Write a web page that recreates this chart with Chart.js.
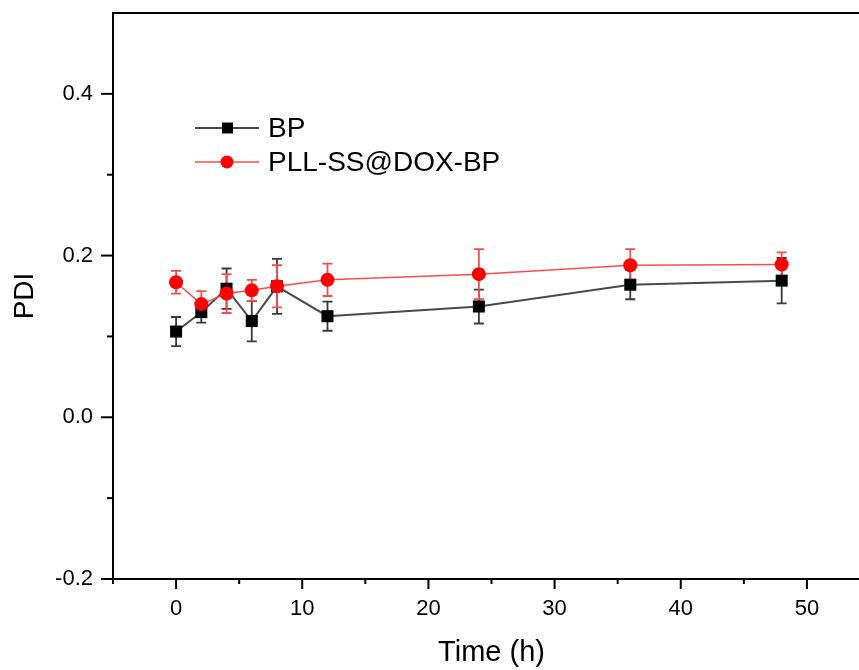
<!DOCTYPE html>
<html>
<head>
<meta charset="utf-8">
<script src="https://cdn.jsdelivr.net/npm/chart.js@4/dist/chart.umd.min.js"></script>
<style>
  html, body { margin: 0; padding: 0; background: #fff; overflow: hidden; }
  /* o gráfico original está cortado à direita, antes do fim do eixo */
  #wrap { width: 859px; height: 670px; overflow: hidden; }
</style>
</head>
<body>
<div id="wrap"><canvas id="pdiChart" width="870" height="670"></canvas></div>
<script>
// dados
const times = [0, 2, 4, 6, 8, 12, 24, 36, 48];
const bpPdi = [0.106, 0.130, 0.159, 0.119, 0.162, 0.125, 0.137, 0.164, 0.169];
const bpErr = [0.018, 0.013, 0.025, 0.025, 0.034, 0.018, 0.021, 0.018, 0.028];
const doxPdi = [0.167, 0.140, 0.153, 0.157, 0.162, 0.170, 0.177, 0.188, 0.189];
const doxErr = [0.014, 0.016, 0.024, 0.013, 0.026, 0.020, 0.031, 0.020, 0.015];
const seriesNames = ['BP', 'PLL-SS@DOX-BP'];
const xTickLabels = [0, 10, 20, 30, 40, 50];
const yTickLabels = [-0.2, 0.0, 0.2, 0.4];

const FONT = '"Liberation Sans", Arial, sans-serif';

const toPoints = (ys) => times.map((t, i) => ({ x: t, y: ys[i] }));

// zera o padding extra que o Chart.js reserva para os rótulos das pontas
const noEdgePadding = (s) => {
    s.paddingTop = 0; s.paddingBottom = 0;
    s.paddingLeft = 0; s.paddingRight = 0;
};

// barras de erro, desenhadas pelas escalas do próprio chart
const errorBars = {
    id: 'errorBars',
    beforeDatasetsDraw(chart) {
        const { ctx, scales: { x, y } } = chart;
        chart.data.datasets.forEach((ds) => {
            ctx.save();
            ctx.strokeStyle = ds.errColor;
            ctx.lineWidth = 1.8;
            ds.data.forEach((p, i) => {
                const e = ds.errors[i];
                const px = x.getPixelForValue(p.x);
                const top = y.getPixelForValue(p.y + e);
                const bot = y.getPixelForValue(p.y - e);
                ctx.beginPath();
                ctx.moveTo(px, top); ctx.lineTo(px, bot);
                ctx.moveTo(px - 5, top); ctx.lineTo(px + 5, top);
                ctx.moveTo(px - 5, bot); ctx.lineTo(px + 5, bot);
                ctx.stroke();
            });
            ctx.restore();
        });
    }
};

// marcas dos eixos (maiores e menores), moldura e legenda
const frameAndLegend = {
    id: 'frameAndLegend',
    afterDraw(chart) {
        const { ctx, chartArea: a, scales: { x, y } } = chart;
        ctx.save();
        ctx.strokeStyle = '#000';
        ctx.lineWidth = 2;
        // moldura de cima e da direita
        ctx.beginPath();
        ctx.moveTo(a.left - 1, a.top); ctx.lineTo(a.right, a.top); ctx.lineTo(a.right, a.bottom);
        ctx.stroke();
        // ticks do eixo x
        x.ticks.forEach((t) => {
            const px = x.getPixelForValue(t.value);
            const len = t.value % 10 === 0 ? 10 : 5;
            ctx.beginPath();
            ctx.moveTo(px, a.bottom); ctx.lineTo(px, a.bottom + len);
            ctx.stroke();
        });
        // ticks do eixo y
        y.ticks.forEach((t) => {
            if (t.value > 0.45) return;
            const py = y.getPixelForValue(t.value);
            const major = Math.abs(Math.round(t.value * 10)) % 2 === 0;
            const len = major ? 12 : 6;
            ctx.beginPath();
            ctx.moveTo(a.left, py); ctx.lineTo(a.left - len, py);
            ctx.stroke();
        });
        ctx.restore();

        // legenda
        ctx.save();
        const lx = a.left + 82;
        chart.data.datasets.forEach((ds, i) => {
            const ly = 128 + i * 34;
            ctx.strokeStyle = ds.borderColor;
            ctx.lineWidth = ds.borderWidth;
            ctx.beginPath();
            ctx.moveTo(lx, ly); ctx.lineTo(lx + 64, ly);
            ctx.stroke();
            ctx.fillStyle = ds.pointBackgroundColor;
            if (ds.pointStyle === 'rect') {
                ctx.fillRect(lx + 27, ly - 5.5, 11, 11);
            } else {
                ctx.beginPath();
                ctx.arc(lx + 32, ly, 6.5, 0, Math.PI * 2);
                ctx.fill();
            }
            ctx.fillStyle = '#000';
            ctx.font = '28px ' + FONT;
            ctx.textBaseline = 'middle';
            ctx.fillText(ds.label, lx + 73, ly + 1);
        });
        ctx.restore();
    }
};

const ctx = document.getElementById('pdiChart').getContext('2d');
new Chart(ctx, {
    type: 'line',
    data: {
        datasets: [
            {
                label: seriesNames[0],
                data: toPoints(bpPdi),
                errors: bpErr,
                errColor: '#3a3a3a',
                borderColor: '#4a4a4a',
                borderWidth: 2,
                pointStyle: 'rect',
                pointRadius: 8.5,
                pointBackgroundColor: '#000',
                pointBorderWidth: 0,
                order: 1
            },
            {
                label: seriesNames[1],
                data: toPoints(doxPdi),
                errors: doxErr,
                errColor: '#f05050',
                borderColor: '#ff4d4d',
                borderWidth: 1.5,
                pointStyle: 'circle',
                pointRadius: 7,
                pointBackgroundColor: '#ff0000',
                pointBorderWidth: 0,
                order: 0
            }
        ]
    },
    options: {
        responsive: false,
        animation: false,
        events: [],
        layout: { autoPadding: false, padding: { top: 13, right: 0, bottom: 0, left: 0 } },
        plugins: {
            legend: { display: false },
            tooltip: { enabled: false }
        },
        scales: {
            x: {
                type: 'linear',
                min: -5,
                max: 55,
                afterFit: (s) => { s.height = 91; noEdgePadding(s); },
                grid: { display: false, drawTicks: false },
                border: { display: true, color: '#000', width: 2 },
                ticks: {
                    stepSize: 5,
                    includeBounds: false,
                    autoSkip: false,
                    maxRotation: 0,
                    padding: 17,
                    color: '#000',
                    font: { family: FONT, size: 22 },
                    callback: (v) => xTickLabels.includes(v) ? String(v) : ''
                },
                title: {
                    display: true,
                    text: 'Time (h)',
                    color: '#000',
                    font: { family: FONT, size: 29 },
                    padding: { top: 4, bottom: 0 }
                }
            },
            y: {
                min: -0.2,
                max: 0.5,
                afterFit: (s) => { s.width = 113; noEdgePadding(s); },
                grid: { display: false, drawTicks: false },
                border: { display: true, color: '#000', width: 2 },
                ticks: {
                    stepSize: 0.1,
                    autoSkip: false,
                    padding: 20,
                    color: '#000',
                    font: { family: FONT, size: 22 },
                    callback: (v) => {
                        const r = Math.round(v * 10) / 10;
                        return yTickLabels.some((t) => Math.abs(t - r) < 1e-9) ? r.toFixed(1) : '';
                    }
                },
                title: {
                    display: true,
                    text: 'PDI',
                    color: '#000',
                    font: { family: FONT, size: 28 },
                    padding: { top: 8, bottom: 0 }
                }
            }
        }
    },
    plugins: [errorBars, frameAndLegend]
});
</script>
</body>
</html>
